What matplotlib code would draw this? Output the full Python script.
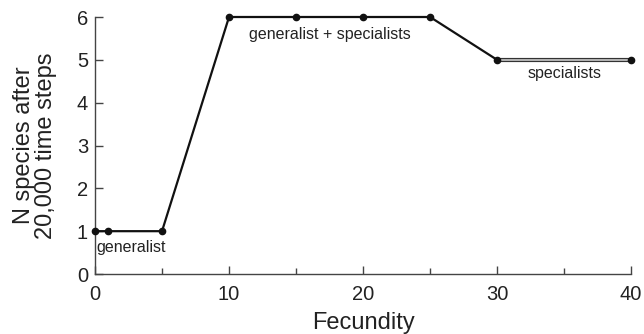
import matplotlib
matplotlib.use('Agg')
import matplotlib.pyplot as plt
from matplotlib.ticker import MultipleLocator

# Data
fecundity = [0, 1, 5, 10, 15, 20, 25, 30]
n_species = [1, 1, 1, 6, 6, 6, 6, 5]
spec_fecundity = [30, 40]
spec_species = [5, 5]

plt.rcParams['font.family'] = ['Liberation Sans', 'DejaVu Sans']

fig = plt.figure(figsize=(6.44, 3.34), dpi=100)
ax = fig.add_axes([0.1475, 0.1796, 0.8325, 0.7695])

# Main black line with dots
ax.plot(fecundity, n_species, color='#111111', lw=1.6, marker='o', ms=4.5,
        zorder=3, clip_on=False)

# Specialists segment drawn as a double (outlined) line
ax.plot(spec_fecundity, spec_species, color='#333333', lw=3.0,
        solid_capstyle='butt', zorder=2, clip_on=False)
ax.plot(spec_fecundity, spec_species, color='#d8d8d8', lw=1.1,
        solid_capstyle='butt', zorder=2, clip_on=False)
ax.plot(spec_fecundity[-1:], spec_species[-1:], 'o', color='#111111', ms=4.5,
        zorder=4, clip_on=False)

# Labels on the plot
ax.text(0.1, 0.8, 'generalist', fontsize=11.5, color='#222222', ha='left', va='top')
ax.text(17.5, 5.6, 'generalist + specialists', fontsize=11.5, color='#222222',
        ha='center', va='center')
ax.text(35.0, 4.68, 'specialists', fontsize=11.5, color='#222222',
        ha='center', va='center')

ax.set_xlim(0, 40)
ax.set_ylim(0, 6)
ax.xaxis.set_major_locator(MultipleLocator(10))
ax.xaxis.set_minor_locator(MultipleLocator(5))
ax.yaxis.set_major_locator(MultipleLocator(1))

ax.spines['right'].set_visible(False)
ax.spines['top'].set_visible(False)
for s in ['left', 'bottom']:
    ax.spines[s].set_color('#444444')
    ax.spines[s].set_linewidth(1.0)

ax.tick_params(axis='both', which='major', direction='in', length=6,
               width=1.0, color='#444444', labelsize=14.5, labelcolor='#222222')
ax.tick_params(axis='x', which='minor', direction='in', length=4,
               width=1.0, color='#444444')
ax.tick_params(axis='x', pad=8)
ax.tick_params(axis='y', pad=5)

ax.set_xlabel('Fecundity', fontsize=17, color='#222222', labelpad=6)
ax.set_ylabel('N species after\n20,000 time steps', fontsize=17,
              color='#222222', linespacing=1.0, labelpad=14)

plt.savefig('out.png', dpi=100)
